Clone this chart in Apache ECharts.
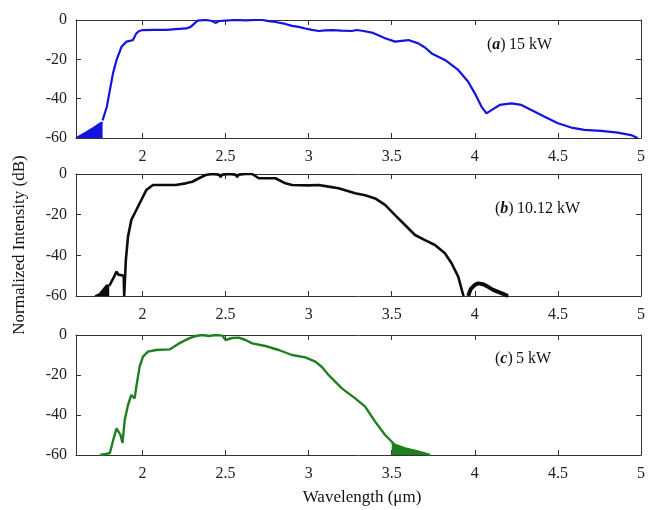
<!DOCTYPE html>
<html>
<head>
<meta charset="utf-8">
<script src="https://cdn.jsdelivr.net/npm/echarts@6/dist/echarts.min.js"></script>
<style>
  html, body { margin: 0; padding: 0; background: #fff; }
  #chart { width: 648px; height: 510px; }
</style>
</head>
<body>
<div id="chart"></div>
<script>
// tick values shared by the three panels
var xTicks = [2, 2.5, 3, 3.5, 4, 4.5, 5]
var panelLabels = ['a', 'b', 'c']
var panelPowers = ['15 kW', '10.12 kW', '5 kW']

// (a) 15 kW
var noiseA = [[1.60, -60], [1.65, -57.5], [1.70, -55], [1.745, -52.5], [1.76, -52]]
var specA = [[1.76, -51], [1.786, -44], [1.804, -35.6], [1.823, -27], [1.844, -20.3], [1.874, -13.6],
  [1.904, -11], [1.93, -10.5], [1.943, -10.2], [1.963, -6.8], [1.98, -5.6], [2.003, -5.1], [2.07, -5],
  [2.143, -5], [2.2, -4.6], [2.263, -4.3], [2.29, -3.5], [2.31, -2], [2.332, -0.3], [2.38, 0], [2.42, -0.5],
  [2.442, -1.5], [2.46, -0.5], [2.5, -0.3], [2.56, 0], [2.62, -0.2], [2.68, 0], [2.722, 0], [2.76, -0.6],
  [2.80, -1], [2.86, -2], [2.9, -3], [2.94, -3.5], [2.98, -4.3], [3.02, -5], [3.061, -5.6], [3.10, -5.3],
  [3.141, -5.1], [3.2, -5.4], [3.26, -5.6], [3.29, -5.1], [3.33, -5.6], [3.38, -6.4], [3.42, -7.8],
  [3.46, -9.3], [3.52, -11], [3.56, -10.6], [3.60, -10.2], [3.66, -11.9], [3.70, -14], [3.74, -17],
  [3.82, -20.3], [3.90, -25.4], [3.96, -31.4], [4.0, -37.3], [4.04, -44], [4.07, -47.5], [4.10, -45.8],
  [4.15, -43.2], [4.22, -42.4], [4.28, -43.2], [4.34, -45.8], [4.42, -49.2], [4.50, -52.5], [4.58, -54.7],
  [4.66, -55.9], [4.76, -56.4], [4.86, -57.3], [4.94, -58.5], [4.98, -60]]

// (b) 10.12 kW
var noiseB = [[1.714, -60], [1.74, -59], [1.76, -57], [1.784, -54.6], [1.80, -55]]
var specB = [[1.80, -55], [1.82, -52], [1.844, -48], [1.855, -49.5], [1.863, -50], [1.887, -50], [1.89, -60],
  [1.893, -60], [1.90, -42.3], [1.913, -30.8], [1.933, -22.6], [1.963, -17.7], [1.993, -12.8], [2.023, -7.9],
  [2.063, -5.4], [2.13, -5.4], [2.20, -5.4], [2.26, -4.6], [2.30, -3.8], [2.34, -2.1], [2.38, -0.5], [2.42, 0],
  [2.46, -0.3], [2.47, -1.5], [2.48, -0.3], [2.52, 0], [2.56, -0.3], [2.57, -1.5], [2.58, -0.3], [2.62, 0],
  [2.66, 0], [2.70, -2.1], [2.80, -2.1], [2.86, -4.6], [2.90, -5.4], [3.0, -5.6], [3.06, -5.4], [3.12, -6.2],
  [3.18, -7], [3.28, -9.5], [3.34, -10.5], [3.40, -12], [3.46, -15.2], [3.52, -20.2], [3.58, -25.1],
  [3.64, -30], [3.70, -32.5], [3.76, -34.9], [3.82, -39], [3.86, -43.9], [3.90, -50.5], [3.93, -59.5], [3.935, -60]]
var bumpB = [[3.96, -60], [3.975, -56.6], [4.0, -54.5], [4.02, -53.8], [4.05, -54.2], [4.08, -55.5],
  [4.11, -57], [4.14, -58], [4.17, -59], [4.20, -60]]

// (c) 5 kW
var specC = [[1.744, -60], [1.78, -59.5], [1.804, -59], [1.824, -52.5], [1.844, -46.7], [1.856, -47.5],
  [1.868, -50], [1.88, -54], [1.893, -42.5], [1.913, -35], [1.933, -30], [1.943, -30.5], [1.953, -31.7],
  [1.963, -25.8], [1.983, -15.8], [2.003, -10.8], [2.033, -8.3], [2.083, -7.5], [2.163, -7.2], [2.22, -4.2],
  [2.28, -1.7], [2.32, -0.5], [2.36, 0], [2.40, -0.5], [2.44, 0], [2.48, -0.3], [2.50, -2.5], [2.54, -1.5],
  [2.58, -1.3], [2.62, -2.5], [2.66, -4.2], [2.74, -5.5], [2.82, -7.5], [2.90, -10], [2.98, -11.2],
  [3.04, -13.3], [3.08, -16], [3.12, -20], [3.20, -26.7], [3.28, -31.7], [3.34, -35.8], [3.40, -43.3],
  [3.46, -50], [3.52, -55], [3.58, -56.7], [3.66, -58.3], [3.73, -60]]
var noiseC = [[3.50, -54], [3.52, -55], [3.58, -56.7], [3.66, -58.3], [3.73, -60]]

var colors = ['#1414e0', '#0d0d0d', '#1f7f1f']
var gridTops = [20, 174, 335]
var gridHeights = [118, 122, 120]

var FONT = '"Liberation Serif", "DejaVu Serif", serif'

var chart = echarts.init(document.getElementById('chart'))

var grids = [], xAxes = [], yAxes = [], series = [], texts = []
for (var i = 0; i < 3; i++) {
  grids.push({ left: 76, width: 568, top: gridTops[i], height: gridHeights[i] })
  var xBase = {
    gridIndex: i, type: 'value', min: 1.6, max: 5,
    axisLine: { onZero: false, lineStyle: { color: '#333', width: 1 } },
    axisTick: { inside: true, length: 5, customValues: xTicks, lineStyle: { color: '#333' } },
    splitLine: { show: false }
  }
  xAxes.push(Object.assign({}, xBase, {
    position: 'bottom',
    axisLabel: { customValues: xTicks, margin: 11, fontFamily: FONT, fontSize: 16, color: '#222' }
  }))
  xAxes.push(Object.assign({}, xBase, { position: 'top', axisLabel: { show: false } }))
  var yBase = {
    gridIndex: i, type: 'value', min: -60, max: 0, interval: 20,
    axisLine: { show: true, onZero: false, lineStyle: { color: '#333', width: 1 } },
    axisTick: { show: true, inside: true, length: 5, lineStyle: { color: '#333' } },
    splitLine: { show: false }
  }
  yAxes.push(Object.assign({}, yBase, {
    position: 'left',
    axisLabel: { margin: 9, fontFamily: FONT, fontSize: 16, color: '#222' }
  }))
  yAxes.push(Object.assign({}, yBase, { position: 'right', axisLabel: { show: false } }))
}

function line (idx, data, width, area) {
  var s = {
    type: 'line', xAxisIndex: idx * 2, yAxisIndex: idx * 2, data: data,
    showSymbol: false, symbol: 'none', silent: true,
    lineStyle: { color: colors[idx], width: width },
    itemStyle: { color: colors[idx] }
  }
  if (area) s.areaStyle = { color: colors[idx], opacity: 1, origin: 'start' }
  return s
}
series.push(line(0, noiseA, 1.5, true))
series.push(line(0, specA, 2.2))
series.push(line(1, noiseB, 1.5, true))
series.push(line(1, specB, 2.6))
series.push(line(1, bumpB, 4))
series.push(line(2, specC, 2.4))
series.push(line(2, noiseC, 1.5, true))

var labelPos = [[487, 46], [495, 210], [495, 360]]
for (var k = 0; k < 3; k++) {
  texts.push({
    type: 'text', left: labelPos[k][0], top: labelPos[k][1] - 9,
    style: {
      text: '{p|(}{l|' + panelLabels[k] + '}{p|)} {p|' + panelPowers[k] + '}',
      rich: {
        p: { fontFamily: FONT, fontSize: 16, fill: '#111' },
        l: { fontFamily: FONT, fontSize: 16, fontStyle: 'italic', fontWeight: 'bold', fill: '#111' }
      }
    }
  })
}
texts.push({
  type: 'text', x: 20, y: 245, rotation: Math.PI / 2,
  style: { text: 'Normalized Intensity (dB)', fontFamily: FONT, fontSize: 17, fill: '#111',
    textAlign: 'center', textVerticalAlign: 'middle' }
})
texts.push({
  type: 'text', x: 362, y: 498,
  style: { text: 'Wavelength (μm)', fontFamily: FONT, fontSize: 17, fill: '#111',
    textAlign: 'center', textVerticalAlign: 'middle' }
})

chart.setOption({
  backgroundColor: '#fff',
  animation: false,
  grid: grids,
  xAxis: xAxes,
  yAxis: yAxes,
  series: series,
  graphic: texts
})
</script>
</body>
</html>
